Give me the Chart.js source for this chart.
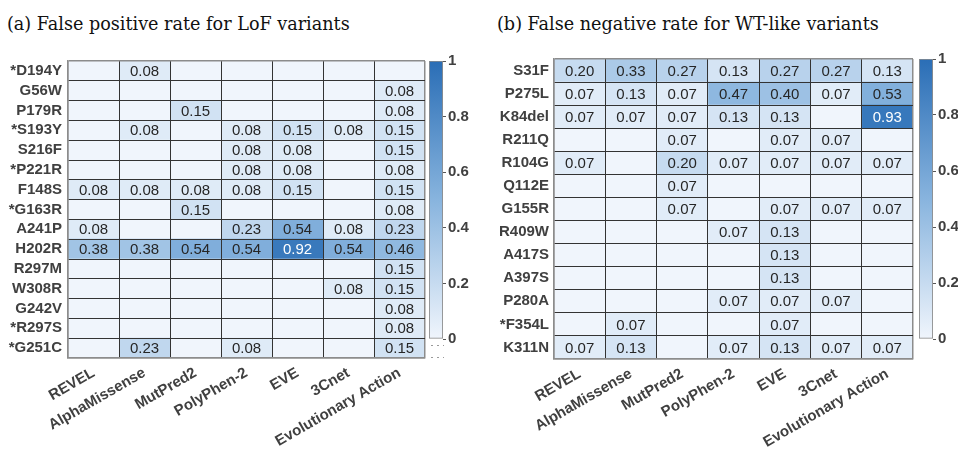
<!DOCTYPE html>
<html><head><meta charset="utf-8">
<script src="https://cdn.jsdelivr.net/npm/chart.js@4/dist/chart.umd.min.js"></script>
<style>
body{margin:0;background:#fff;width:958px;height:451px;overflow:hidden;position:relative;}
canvas{position:absolute;left:0;top:0;}
.title{position:absolute;font-family:"DejaVu Serif";color:#111;white-space:nowrap;line-height:20px;}
.dots{position:absolute;height:1px;background-image:repeating-linear-gradient(to right,#9a9a9a 0 2px,transparent 2px 6px);}
</style></head><body>
<div class="title" style="left:7px;top:14px;font-size:17.6px">(a) False positive rate for LoF variants</div>
<div class="title" style="left:497px;top:14px;font-size:17.6px">(b) False negative rate for WT-like variants</div>
<div class="dots" style="left:431px;top:345px;width:13px"></div>
<div class="dots" style="left:431px;top:357px;width:13px"></div>
<canvas id="ha" width="958" height="451"></canvas>
<canvas id="ca" width="958" height="451"></canvas>
<canvas id="hb" width="958" height="451"></canvas>
<canvas id="cb" width="958" height="451"></canvas>
<script>
// ---- data ----
const methods = ['REVEL','AlphaMissense','MutPred2','PolyPhen-2','EVE','3Cnet','Evolutionary Action'];

// (a) false positive rate, LoF variants (rows top to bottom)
const lofVariants = ['*D194Y','G56W','P179R','*S193Y','S216F','*P221R','F148S','*G163R','A241P','H202R','R297M','W308R','G242V','*R297S','*G251C'];
const lofREVEL         = [null,null,null,null,null,null,0.08,null,0.08,0.38,null,null,null,null,null];
const lofAlphaMissense = [0.08,null,null,0.08,null,null,0.08,null,null,0.38,null,null,null,null,0.23];
const lofMutPred2      = [null,null,0.15,null,null,null,0.08,0.15,null,0.54,null,null,null,null,null];
const lofPolyPhen2     = [null,null,null,0.08,0.08,0.08,0.08,null,0.23,0.54,null,null,null,null,0.08];
const lofEVE           = [null,null,null,0.15,0.08,0.08,0.15,null,0.54,0.92,null,null,null,null,null];
const lof3Cnet         = [null,null,null,0.08,null,null,null,null,0.08,0.54,null,0.08,null,null,null];
const lofEA            = [null,0.08,0.08,0.15,0.15,0.08,0.15,0.08,0.23,0.46,0.15,0.15,0.08,0.08,0.15];

// (b) false negative rate, WT-like variants
const wtVariants = ['S31F','P275L','K84del','R211Q','R104G','Q112E','G155R','R409W','A417S','A397S','P280A','*F354L','K311N'];
const wtREVEL         = [0.20,0.07,0.07,null,0.07,null,null,null,null,null,null,null,0.07];
const wtAlphaMissense = [0.33,0.13,0.07,null,null,null,null,null,null,null,null,0.07,0.13];
const wtMutPred2      = [0.27,0.07,0.07,0.07,0.20,0.07,0.07,null,null,null,null,null,null];
const wtPolyPhen2     = [0.13,0.47,0.13,null,0.07,null,null,0.07,null,null,0.07,null,0.07];
const wtEVE           = [0.27,0.40,0.13,0.07,0.07,null,0.07,0.13,0.13,0.13,0.07,0.07,0.13];
const wt3Cnet         = [0.27,0.07,null,0.07,0.07,null,0.07,null,null,null,0.07,null,0.07];
const wtEA            = [0.13,0.53,0.93,null,0.07,null,0.07,null,null,null,null,null,0.07];

const colorbarTicks = [0,0.2,0.4,0.6,0.8,1];

// ---- styling ----
const FONT = '"Liberation Sans", Arial, Helvetica, sans-serif';
const stops = [[0,[240,245,252]],[0.5,[136,180,222]],[1,[42,110,182]]];
function cmap(v){
  v = Math.max(0, Math.min(1, v||0));
  for (let i=1;i<stops.length;i++){
    if (v <= stops[i][0]){
      const [a,ca] = stops[i-1], [b,cb] = stops[i];
      const t = (v-a)/(b-a);
      const c = ca.map((x,k)=>Math.round(x+(cb[k]-x)*t));
      return `rgb(${c[0]},${c[1]},${c[2]})`;
    }
  }
}
const isEdge = ctx => (ctx.type !== 'tick' || ctx.index === 0);
const edgeColor = ctx => isEdge(ctx) ? '#8c8c8c' : '#333333';
const edgeWidth = ctx => isEdge(ctx) ? 1.5 : 1;

const cellText = {
  id:'cellText',
  afterDatasetsDraw(chart){
    const ctx = chart.ctx;
    ctx.save();
    ctx.font = '15px ' + FONT;
    ctx.textAlign = 'center';
    ctx.textBaseline = 'middle';
    chart.data.datasets.forEach((ds, di)=>{
      const meta = chart.getDatasetMeta(di);
      meta.data.forEach((bar, i)=>{
        const v = ds.values[i];
        if (v == null) return;
        const p = bar.getProps(['x','y','base'], true);
        ctx.fillStyle = v > 0.7 ? '#ffffff' : '#262626';
        ctx.fillText(v.toFixed(2), (p.x + p.base)/2, p.y + 1);
      });
    });
    ctx.restore();
  }
};

function heatmap(id, rows, cols, box){
  const datasets = cols.map((vals, c) => ({
    data: rows.map(() => [c, c+1]),
    values: vals,
    backgroundColor: vals.map(v => cmap(v)),
    borderWidth: 0,
    barPercentage: 1, categoryPercentage: 1, grouped: false,
    xAxisID: 'x', yAxisID: 'y'
  }));
  return new Chart(document.getElementById(id), {
    type: 'bar',
    data: { labels: rows, datasets },
    options: {
      indexAxis: 'y', responsive: false, animation: false, events: [],
      layout: { padding: { left: box.padL, right: box.padR, top: box.top, bottom: 0 } },
      plugins: { legend: { display: false }, tooltip: { enabled: false } },
      scales: {
        x: { type: 'linear', min: 0, max: methods.length, display: false },
        xc: {
          type: 'category', axis: 'x', labels: methods, position: 'bottom', offset: true,
          grid: { z: 1, offset: true, color: edgeColor, lineWidth: edgeWidth, drawTicks: false },
          border: { z: 2, display: true, color: '#8c8c8c', width: 1.5 },
          ticks: { autoSkip: false, minRotation: 30, maxRotation: 30, padding: box.xpad,
                   font: { family: FONT, weight: 'bold', size: 15 }, color: '#404040' },
          afterFit: s => { s.height = box.xh; }
        },
        y: {
          type: 'category', offset: true,
          grid: { z: 1, offset: true, color: edgeColor, lineWidth: edgeWidth, drawTicks: false },
          border: { z: 2, display: true, color: '#8c8c8c', width: 1.5 },
          ticks: { autoSkip: false, padding: box.ypad,
                   font: { family: FONT, weight: 'bold', size: 15 }, color: '#404040' },
          afterFit: s => { s.width = box.yw; }
        }
      }
    },
    plugins: [cellText]
  });
}

function colorbar(id, box){
  return new Chart(document.getElementById(id), {
    type: 'bar',
    data: { labels: [''], datasets: [{
      data: [[0, 1]],
      backgroundColor: c => {
        const ca = c.chart.chartArea;
        if (!ca) return cmap(0.5);
        const g = c.chart.ctx.createLinearGradient(0, ca.bottom, 0, ca.top);
        stops.forEach(([s, col]) => g.addColorStop(s, `rgb(${col[0]},${col[1]},${col[2]})`));
        return g;
      },
      borderColor: '#8c8c8c', borderWidth: 1.2, borderSkipped: false,
      barPercentage: 1, categoryPercentage: 1
    }]},
    options: {
      responsive: false, animation: false, events: [],
      layout: { padding: { left: box.left, right: 958 - box.right - box.aw, top: box.top, bottom: 451 - box.bottom } },
      plugins: { legend: { display: false }, tooltip: { enabled: false } },
      scales: {
        x: { display: false },
        y: {
          position: 'right', min: 0, max: 1,
          afterBuildTicks: s => { s.ticks = colorbarTicks.map(v => ({ value: v })); },
          ticks: { padding: 2, callback: v => String(v),
                   font: { family: FONT, weight: 'bold', size: 15 }, color: '#404040' },
          grid: { drawOnChartArea: false, drawTicks: true, tickLength: 3, color: '#555' },
          border: { display: false },
          afterFit: s => { s.width = box.aw; }
        }
      }
    }
  });
}

heatmap('ha', lofVariants,
  [lofREVEL, lofAlphaMissense, lofMutPred2, lofPolyPhen2, lofEVE, lof3Cnet, lofEA],
  { padL: 0, yw: 68, padR: 958 - 425, top: 61, xh: 451 - 358, ypad: 6, xpad: 6 });
colorbar('ca', { left: 429, right: 443, top: 61, bottom: 339, aw: 30 });

heatmap('hb', wtVariants,
  [wtREVEL, wtAlphaMissense, wtMutPred2, wtPolyPhen2, wtEVE, wt3Cnet, wtEA],
  { padL: 484, yw: 70, padR: 958 - 913, top: 59, xh: 451 - 359, ypad: 5, xpad: 6 });
colorbar('cb', { left: 919, right: 933, top: 59, bottom: 339, aw: 25 });
</script>
</body></html>
